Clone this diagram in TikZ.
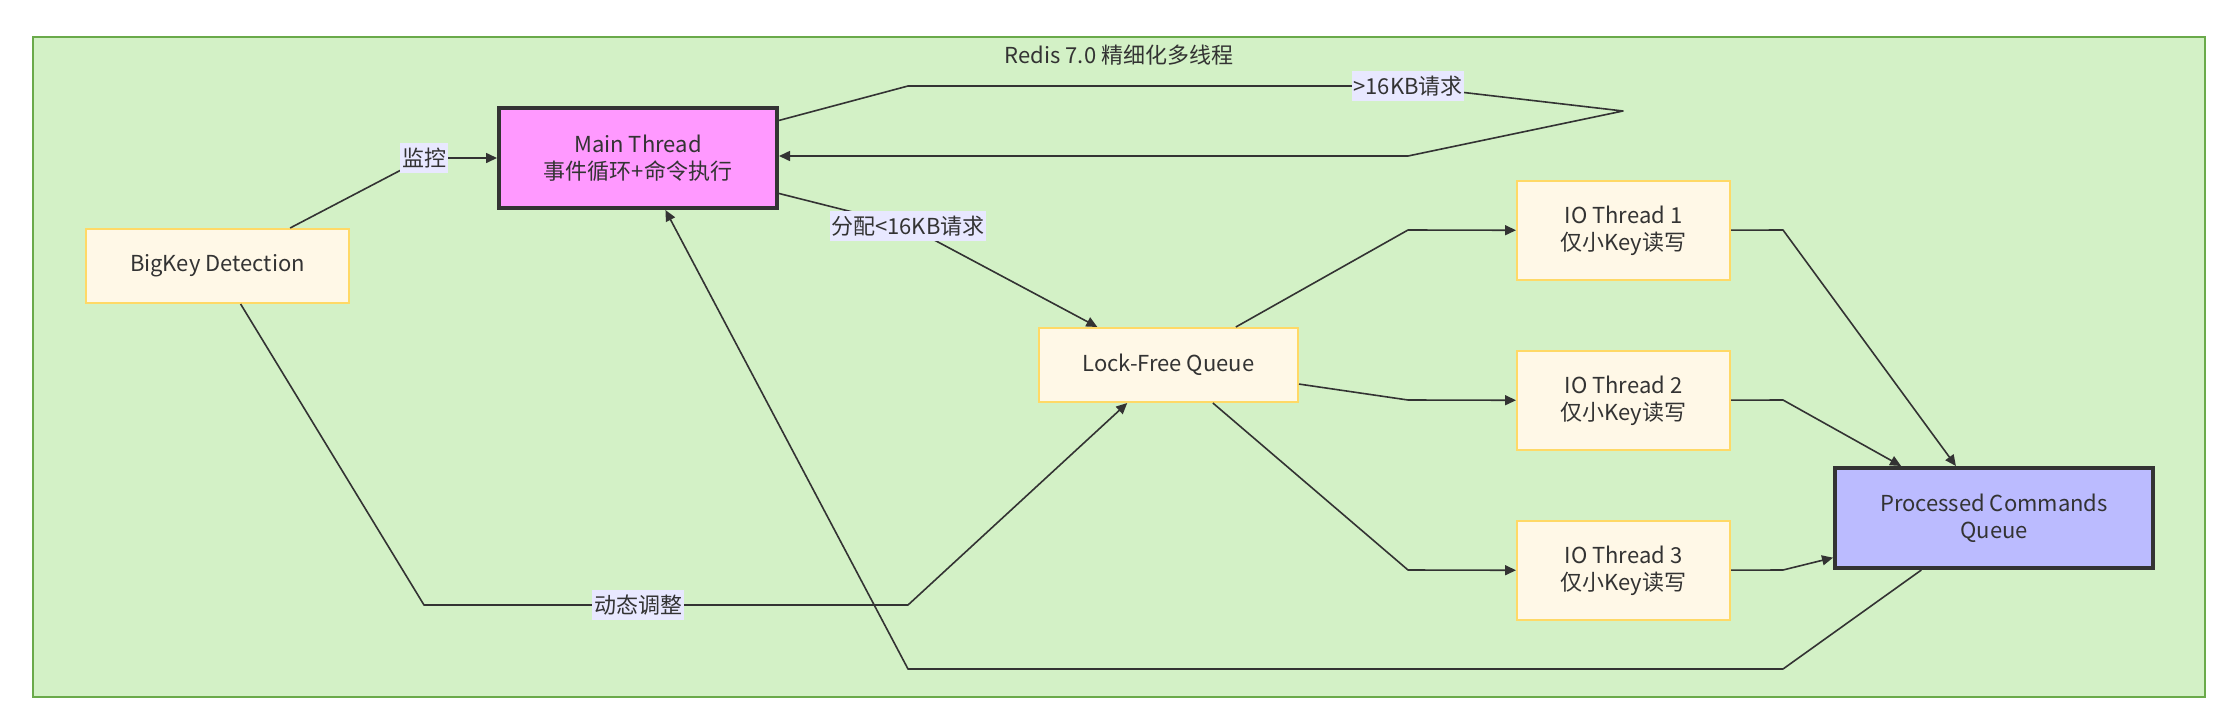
\documentclass[tikz,border=0pt]{standalone}
\usepackage{fontspec}
\setmainfont{Noto Sans CJK SC}
\usetikzlibrary{arrows.meta}
\definecolor{clfill}{HTML}{D3F1C6}
\definecolor{clline}{HTML}{6AAA4A}
\definecolor{nfill}{HTML}{FFF8E7}
\definecolor{nline}{HTML}{FFD966}
\definecolor{mainfill}{HTML}{FF99FF}
\definecolor{procfill}{HTML}{BBBBFF}
\definecolor{dark}{HTML}{333333}
\definecolor{lblfill}{HTML}{E8E8FF}
\tikzset{
  basebox/.style={inner sep=0pt, align=center, text=dark, font=\fontsize{11}{13.5}\selectfont},
  plainbox/.style={basebox, draw=nline, line width=1pt, fill=nfill},
  strongbox/.style={basebox, draw=dark, line width=2pt},
  edgelbl/.style={fill=lblfill, inner xsep=0.8pt, inner ysep=2.5pt, text=dark, font=\fontsize{11}{13}\selectfont},
  conn/.style={draw=dark, line width=0.8pt, line join=round},
  arr/.style={conn, -{Triangle[length=5.5pt,width=5pt]}}
}
\begin{document}
\begin{tikzpicture}[x=0.5pt,y=-0.5pt]
\useasboundingbox (0,0) rectangle (2237,723);
% cluster
\node[draw=clline, line width=1pt, fill=clfill, minimum width=1086pt, minimum height=330pt, inner sep=0pt] (cluster) at (1119,367) {};
\node[text=dark, font=\fontsize{11}{13}\selectfont] (title) at (1119,55) {Redis 7.0 精细化多线程};
% nodes
\node[strongbox, fill=mainfill, minimum width=139pt, minimum height=50pt] (main) at (638,158) {Main Thread\\事件循环+命令执行};
\node[plainbox, minimum width=131.5pt, minimum height=37pt] (bigkey) at (217.5,266) {BigKey Detection};
\node[plainbox, minimum width=129.5pt, minimum height=37pt] (lock) at (1168.5,365) {Lock-Free Queue};
\node[plainbox, minimum width=106.5pt, minimum height=49.5pt] (io1) at (1623.5,230.5) {IO Thread 1\\仅小Key读写};
\node[plainbox, minimum width=106.5pt, minimum height=49.5pt] (io2) at (1623.5,400.5) {IO Thread 2\\仅小Key读写};
\node[plainbox, minimum width=106.5pt, minimum height=49.5pt] (io3) at (1623.5,570.5) {IO Thread 3\\仅小Key读写};
\node[strongbox, fill=procfill, minimum width=159pt, minimum height=50pt] (proc) at (1994,518) {Processed Commands\\Queue};
% bend coordinates
\coordinate (bm) at (424,158);
\coordinate (ml) at (908,226);
\coordinate (l1a) at (908,86);
\coordinate (l1b) at (1408,86);
\coordinate (l1c) at (1623,111);
\coordinate (l1d) at (1408,156);
\coordinate (bl1) at (424,605);
\coordinate (bl2) at (638,605);
\coordinate (bl3) at (908,605);
\coordinate (li1) at (1408,230);
\coordinate (li2) at (1408,400);
\coordinate (li3) at (1408,570);
\coordinate (ip1) at (1783,230);
\coordinate (ip2) at (1783,400);
\coordinate (ip3) at (1783,570);
\coordinate (pm1) at (1783,669);
\coordinate (pm2) at (908,669);
% connectors
\draw[arr] (bigkey) -- (bm) -- (main);
\draw[arr] (main) -- (ml) -- (lock);
\draw[arr] (main) -- (l1a) -- (l1b) -- (l1c) -- (l1d) -- (main.east |- l1d);
\draw[arr] (bigkey) -- (bl1) -- (bl3) -- (lock);
\draw[arr] (lock) -- (li1) -- (io1);
\draw[arr] (lock) -- (li2) -- (io2);
\draw[arr] (lock) -- (li3) -- (io3);
\draw[arr] (io1) -- (ip1) -- (proc);
\draw[arr] (io2) -- (ip2) -- (proc);
\draw[arr] (io3) -- (ip3) -- (proc);
\draw[arr] (proc) -- (pm1) -- (pm2) -- (main);
% edge labels
\node[edgelbl] (lblmon) at (bm) {监控};
\node[edgelbl] (lblsmall) at (ml) {分配<16KB请求};
\node[edgelbl] (lblbig) at (l1b) {>16KB请求};
\node[edgelbl] (lbldyn) at (bl2) {动态调整};
\end{tikzpicture}
\end{document}
